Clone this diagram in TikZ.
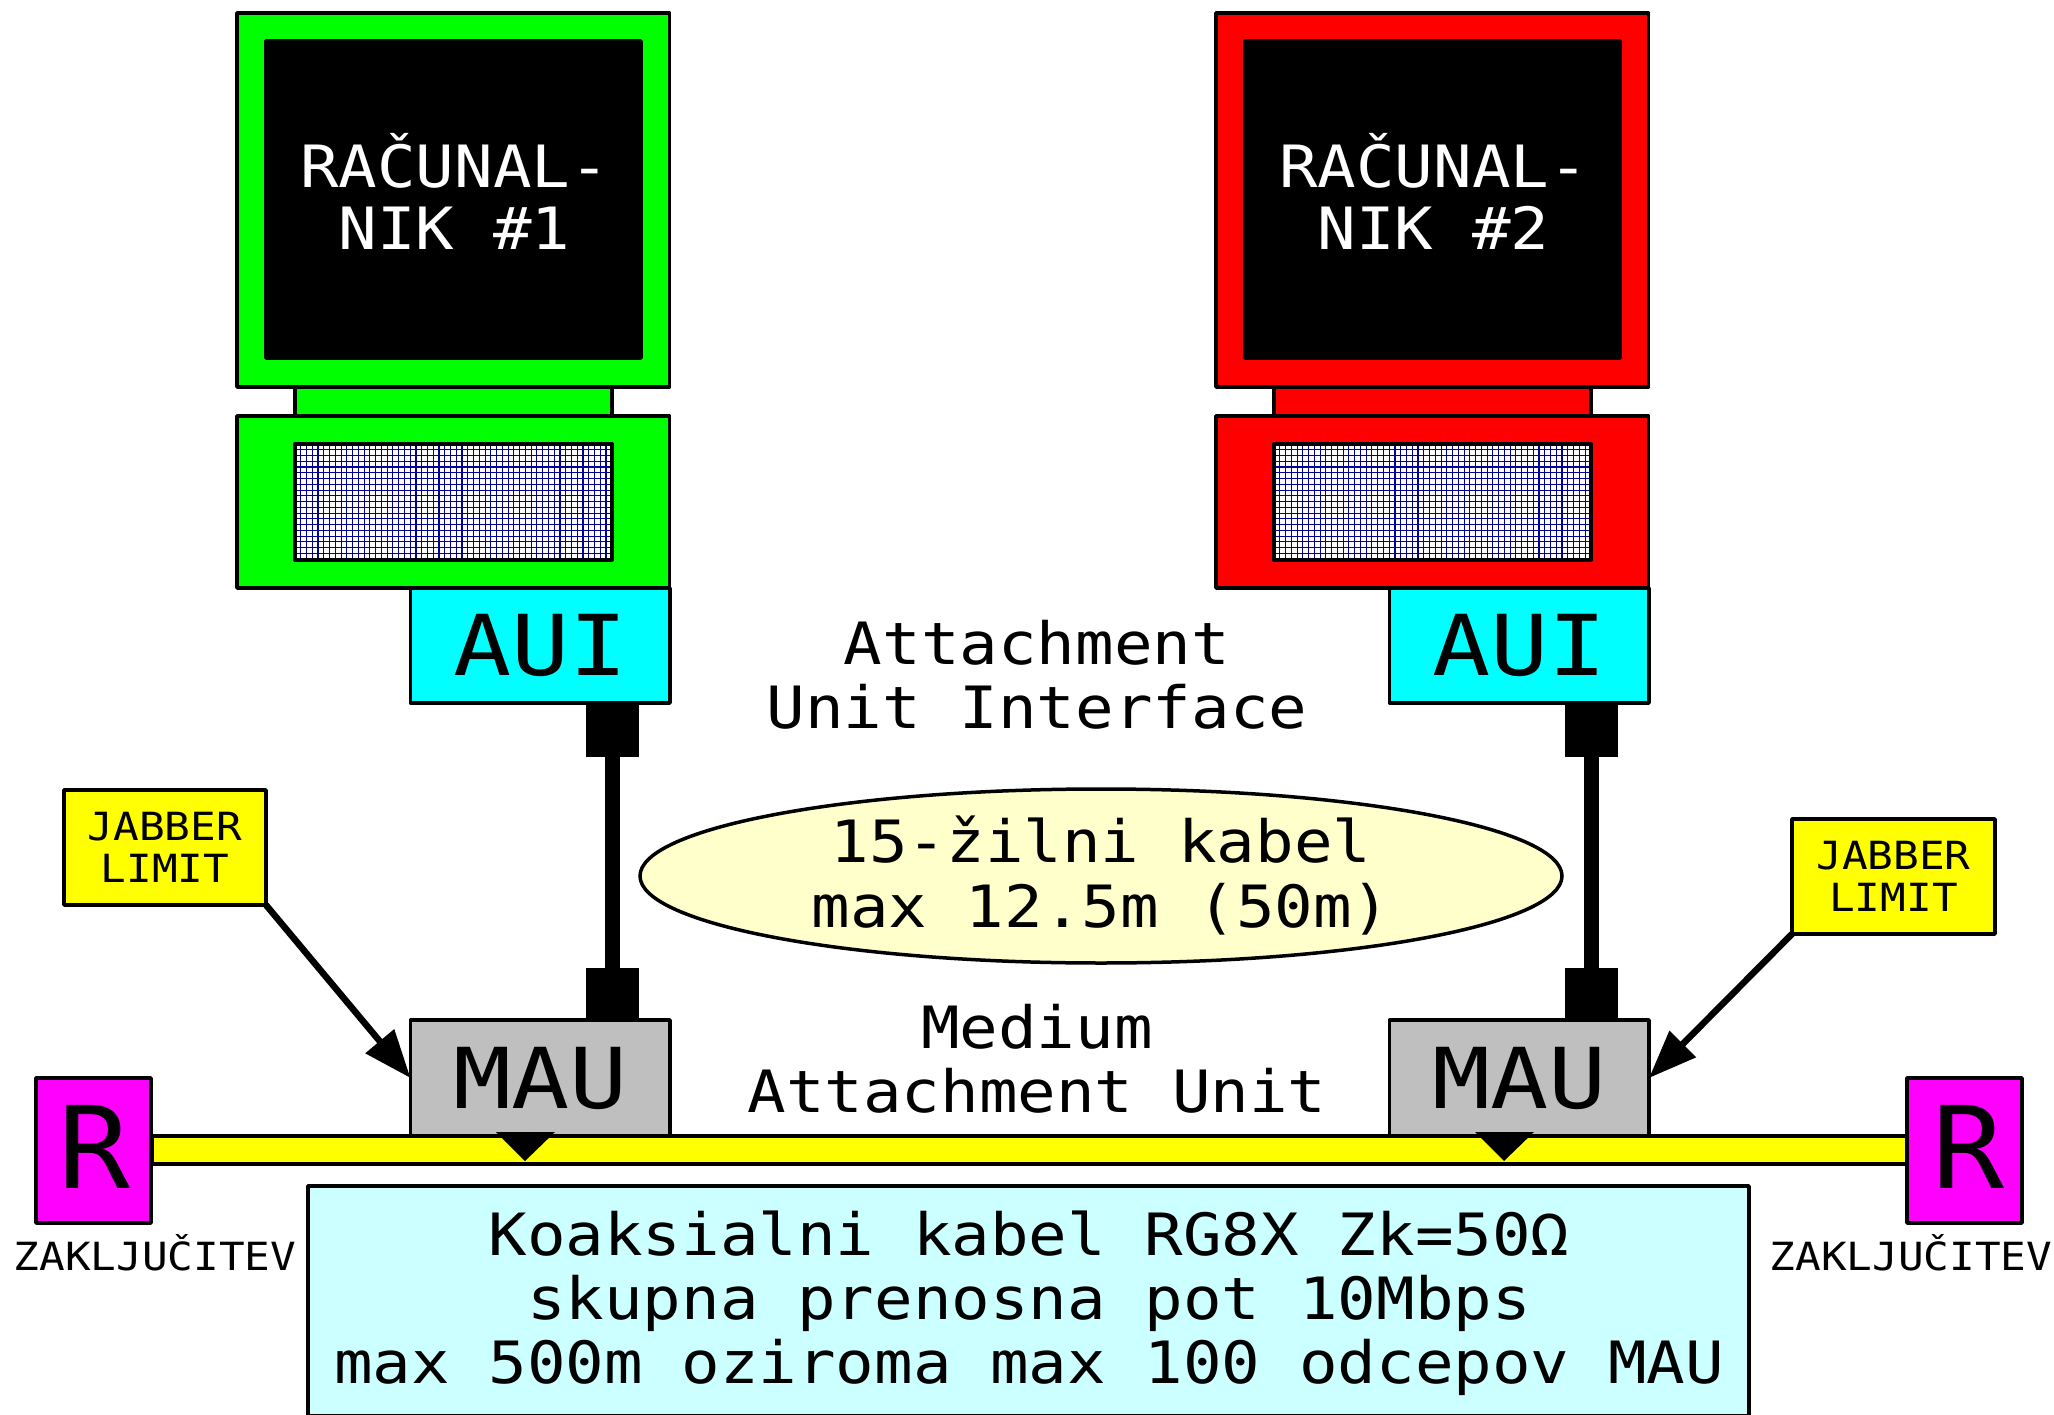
\documentclass[tikz,border=0pt]{standalone}
\usepackage{fontspec}
\usetikzlibrary{arrows.meta,shapes.geometric}
\newfontfamily\dmono[FakeStretch=1.1]{DejaVu Sans Mono}
\newfontfamily\dwide[FakeStretch=1.15]{DejaVu Sans Mono}
\newfontfamily\dtall[FakeStretch=1.05]{DejaVu Sans Mono}
\definecolor{gridblue}{HTML}{000099}
\definecolor{paleyel}{HTML}{FFFFCC}
\definecolor{palecyan}{HTML}{CCFFFF}
\definecolor{gray75}{HTML}{BFBFBF}
\definecolor{pureaqua}{HTML}{00FFFF}
\definecolor{puremag}{HTML}{FF00FF}
\definecolor{pureyel}{HTML}{FFFF00}
\definecolor{puregreen}{HTML}{00FF00}
\definecolor{purered}{HTML}{FF0000}
\newcommand{\fsz}[2]{\fontsize{#1}{#2}\selectfont}
\tikzset{
  x=1pt,y=-1pt,
  every node/.style={font=\dmono,text=black},
  bx/.style={draw=black,line width=3.5pt,line join=round,inner sep=0pt,outer sep=0pt,anchor=north west},
  plug/.style={fill=black,inner sep=0pt,outer sep=0pt,anchor=north west,minimum width=53pt},
  lbl/.style={inner sep=0pt,outer sep=0pt,align=center},
  big/.style={lbl,font=\dmono\fsz{58.3}{64}},
  small/.style={lbl,font=\dmono\fsz{38.8}{42}},
  pointer/.style={draw=black,line width=6.5pt,-{Triangle[length=48pt,width=36pt]}},
  cable/.style={draw=black,line width=15pt},
  tapmark/.style={fill=black}
}
\newcommand{\computer}[4]{% #1 x offset, #2 colour, #3 id, #4 number
  \begin{scope}[shift={(#1,0)}]
    \node[bx,fill=#2,minimum width=432.5pt,minimum height=374pt] (mon#3) at (237,13) {};
    \node[bx,fill=black,minimum width=375pt,minimum height=317pt] (scr#3) at (266,41) {};
    \node[lbl,text=white,font=\dmono\fsz{58.3}{62}] (name#3) at (454.5,191.5) {RAČUNAL-\\NIK \##4};
    \node[bx,fill=#2,minimum width=317pt,minimum height=29pt] (neck#3) at (295,387) {};
    \node[bx,fill=#2,minimum width=432.5pt,minimum height=172pt] (base#3) at (237,416) {};
    \node[bx,fill=white,minimum width=317pt,minimum height=116pt] (grid#3) at (295,444) {};
    \foreach \i in {1,...,54} \draw[gridblue,line width=1.1pt] (295+\i*5.76,444) -- (295+\i*5.76,560);
    \foreach \i in {1,...,19} \draw[gridblue,line width=1.1pt] (295,444+\i*5.76) -- (612,444+\i*5.76);
    \draw[black,line width=4pt,line join=round] (grid#3.north west) rectangle (grid#3.south east);
    \node[bx,fill=pureaqua,minimum width=259.5pt,minimum height=115pt,font=\dwide\fsz{84}{90}] (aui#3) at (410.5,588) {AUI};
    \node[plug,minimum height=54pt] (pa#3) at (585.5,703) {};
    \node[plug,minimum height=52pt] (pb#3) at (585.5,968) {};
    \draw[cable] (pa#3.south) -- (pb#3.north);
    \node[bx,fill=gray75,minimum width=259.5pt,minimum height=116pt,font=\dwide\fsz{84}{90}] (mau#3) at (410.5,1020) {MAU};
  \end{scope}
}
\begin{document}
\begin{tikzpicture}
\useasboundingbox (0,0) rectangle (2054,1415);
\computer{0}{puregreen}{A}{1}
\computer{979}{purered}{B}{2}

\node[bx,fill=pureyel,minimum width=1755pt,minimum height=28pt] (coax) at (152,1136) {};
\fill[tapmark] (496,1132) -- (555,1132) -- (525,1161) -- cycle;
\fill[tapmark] (1475,1132) -- (1534,1132) -- (1504,1161) -- cycle;
\node[bx,fill=puremag,minimum width=115pt,minimum height=145pt] (termA) at (36,1078) {};
\node[bx,fill=puremag,minimum width=115pt,minimum height=145pt] (termB) at (1907,1078) {};
\node[lbl,font=\dtall\fsz{114}{118}] (rA) at (95,1147) {R};
\node[lbl,font=\dtall\fsz{114}{118}] (rB) at (1969,1147) {R};
\node[small] (zakA) at (155,1253) {ZAKLJUČITEV};
\node[small] (zakB) at (1911,1253) {ZAKLJUČITEV};

\node[bx,fill=pureyel,minimum width=202pt,minimum height=115pt,font=\dmono\fsz{38.8}{42},align=center] (jabA) at (64,790) {JABBER\\LIMIT};
\node[bx,fill=pureyel,minimum width=203pt,minimum height=115pt,font=\dmono\fsz{38.8}{42},align=center] (jabB) at (1792,819) {JABBER\\LIMIT};
\draw[pointer] (jabA.south east) -- (mauA.west);
\draw[pointer] (jabB.south west) -- (mauB.east);

\node[big] (attach) at (1037,675) {Attachment\\Unit Interface};
\node[big] (medium) at (1037,1059) {Medium\\Attachment Unit};
\node[draw=black,line width=3.5pt,fill=paleyel,ellipse,minimum width=922pt,minimum height=174pt,inner sep=0pt,font=\dmono\fsz{58.3}{65},align=center] (ell) at (1101,876) {15-žilni kabel\\max 12.5m (50m)};
\node[bx,fill=palecyan,minimum width=1441pt,minimum height=230pt] (info) at (308,1186) {};
\node[big] (infotext) at (1029,1303) {Koaksialni kabel RG8X Zk=50Ω\\skupna prenosna pot 10Mbps\\max 500m oziroma max 100 odcepov MAU};
\end{tikzpicture}
\end{document}
